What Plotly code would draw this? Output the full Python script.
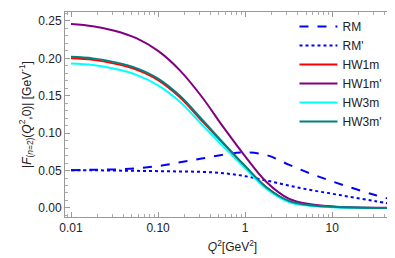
import plotly.graph_objects as go
import numpy as np

q2 = [0.01, 0.0178, 0.0316, 0.0562, 0.1, 0.178, 0.316, 0.562, 1.0, 1.78, 3.16, 5.62, 10.0, 17.8, 31.6, 50.0]

rm     = [0.0505, 0.0510, 0.0515, 0.0530, 0.0560, 0.0610, 0.0660, 0.0712, 0.0742, 0.0705, 0.0580, 0.0460, 0.0355, 0.0260, 0.0170, 0.0110]
rm_p   = [0.0505, 0.0504, 0.0500, 0.0496, 0.0492, 0.0488, 0.0482, 0.0465, 0.0425, 0.0365, 0.0300, 0.0240, 0.0190, 0.0140, 0.0090, 0.0048]
hw1m   = [0.200, 0.198, 0.193, 0.185, 0.171, 0.148, 0.117, 0.086, 0.055, 0.027, 0.0090, 0.0035, 0.0015, 0.0005, 0.0001, 0.0000]
hw1m_p = [0.246, 0.243, 0.237, 0.227, 0.210, 0.184, 0.149, 0.108, 0.069, 0.034, 0.0125, 0.0050, 0.0020, 0.0007, 0.0002, 0.0001]
hw3m   = [0.193, 0.191, 0.186, 0.178, 0.164, 0.142, 0.112, 0.082, 0.053, 0.025, 0.0080, 0.0030, 0.0010, 0.0003, 0.0001, 0.0000]
hw3m_p = [0.202, 0.200, 0.195, 0.187, 0.173, 0.150, 0.119, 0.087, 0.056, 0.027, 0.0095, 0.0035, 0.0015, 0.0005, 0.0001, 0.0000]

series = [
    ("RM", rm, "#0000ff", "dash"),
    ("RM'", rm_p, "#0000ff", "dot"),
    ("HW1m", hw1m, "#ff0000", "solid"),
    ("HW1m'", hw1m_p, "#800080", "solid"),
    ("HW3m", hw3m, "#00ffff", "solid"),
    ("HW3m'", hw3m_p, "#008080", "solid"),
]

fig = go.Figure()
for name, ys, col, dash in series:
    fig.add_trace(go.Scatter(x=q2, y=ys, name=name, mode="lines",
                             line=dict(color=col, width=2, dash=dash, shape="spline", smoothing=1.0)))

font = dict(family="Liberation Sans, Arial, sans-serif", size=12, color="#222222")

xminor = [m * 10.0**e for e in range(-3, 2) for m in range(2, 10)]
yminor = [round(0.01 * i, 3) for i in range(-1, 27)]

fig.update_layout(
    width=395, height=258,
    margin=dict(l=57, r=3, t=4, b=49),
    paper_bgcolor="white", plot_bgcolor="white",
    font=font,
    showlegend=True,
    legend=dict(x=0.685, y=1.0, xanchor="left", yanchor="top",
                bgcolor="rgba(0,0,0,0)", font=dict(size=12, color="#222222"),
                tracegroupgap=0, itemwidth=38),
    xaxis=dict(type="log", range=[np.log10(0.00853), np.log10(60)],
               tickvals=[0.01, 0.1, 1, 10], ticktext=["0.01", "0.10", "1", "10"],
               ticks="inside", ticklen=5, tickcolor="#999999",
               showline=True, linecolor="#999999", linewidth=1, mirror="ticks",
               showgrid=False, zeroline=False,
               tickfont=dict(size=12),
               minor=dict(tickvals=xminor, ticks="inside", ticklen=3, tickcolor="#aaaaaa", showgrid=False),
               title=dict(text="<i>Q</i><sup>2</sup>[GeV<sup>2</sup>]", standoff=8, font=dict(size=12))),
    yaxis=dict(range=[-0.0121, 0.262],
               tickvals=[0, 0.05, 0.1, 0.15, 0.2, 0.25], tickformat=".2f",
               ticks="inside", ticklen=5, tickcolor="#999999",
               showline=True, linecolor="#999999", linewidth=1, mirror="ticks",
               showgrid=False, zeroline=False,
               tickfont=dict(size=12),
               minor=dict(tickvals=yminor, ticks="inside", ticklen=3, tickcolor="#aaaaaa", showgrid=False),
               title=dict(text="|<i>F</i><sub>(<i>n</i>=2)</sub>(<i>Q</i><sup>2</sup>,0)| [GeV<sup>-1</sup>]",
                          standoff=4, font=dict(size=12))),
)

fig.write_html("out.html")
